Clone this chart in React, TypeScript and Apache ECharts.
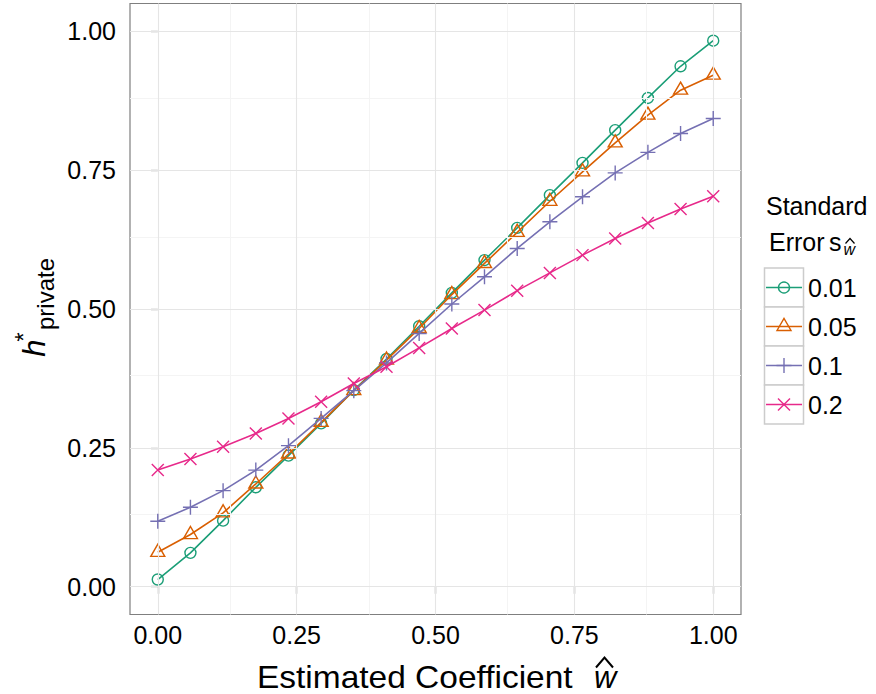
import React, { useEffect, useRef } from 'react';
import * as echarts from 'echarts';

// Estimated coefficient (x) values
const X_VALUES = [0, 0.0588, 0.1176, 0.1765, 0.2353, 0.2941, 0.3529, 0.4118, 0.4706, 0.5294, 0.5882, 0.6471, 0.7059, 0.7647, 0.8235, 0.8824, 0.9412, 1];

// h*_private for each standard error
const SE_LABELS = ['0.01', '0.05', '0.1', '0.2'];
const H_SE001 = [0.013, 0.061, 0.119, 0.179, 0.236, 0.294, 0.354, 0.410, 0.469, 0.529, 0.588, 0.646, 0.705, 0.763, 0.822, 0.880, 0.937, 0.983];
const H_SE005 = [0.062, 0.094, 0.133, 0.185, 0.239, 0.296, 0.353, 0.408, 0.465, 0.526, 0.582, 0.638, 0.694, 0.747, 0.799, 0.849, 0.894, 0.921];
const H_SE01 = [0.118, 0.143, 0.173, 0.210, 0.254, 0.303, 0.353, 0.403, 0.456, 0.509, 0.558, 0.609, 0.657, 0.702, 0.745, 0.782, 0.816, 0.843];
const H_SE02 = [0.210, 0.230, 0.252, 0.276, 0.303, 0.333, 0.366, 0.396, 0.430, 0.465, 0.498, 0.533, 0.565, 0.597, 0.627, 0.655, 0.680, 0.703];

const TICKS = [0, 0.25, 0.5, 0.75, 1];
const MINOR_TICKS = [0.125, 0.375, 0.625, 0.875];

const COLORS = ['#1b9e77', '#d95f02', '#7570b3', '#e7298a'];
const FONT = '"Liberation Sans", Arial, Helvetica, sans-serif';

const SYMBOLS = [
  { symbol: 'path://M10,5A5,5,0,1,1,0,5A5,5,0,1,1,10,5Z', size: [11, 11], offset: [0, 0] },
  { symbol: 'path://M5,0L10,8.66L0,8.66Z', size: [14, 12.1], offset: [0, -2] },
  { symbol: 'path://M0,5L10,5M5,0L5,10', size: [15, 15], offset: [0, 0] },
  { symbol: 'path://M0,0L10,10M10,0L0,10', size: [12, 12], offset: [0, 0] },
];

function legendSymbol(i: number, cx: number, cy: number, color: string): any {
  const style = { fill: 'none', stroke: color, lineWidth: 1.4 };
  if (i === 0) return { type: 'circle', shape: { cx, cy, r: 5.5 }, style };
  if (i === 1)
    return {
      type: 'polygon',
      shape: { points: [[cx - 7, cy + 4], [cx + 7, cy + 4], [cx, cy - 8.1]] },
      style,
    };
  if (i === 2)
    return {
      type: 'group',
      children: [
        { type: 'line', shape: { x1: cx - 7.5, y1: cy, x2: cx + 7.5, y2: cy }, style },
        { type: 'line', shape: { x1: cx, y1: cy - 7.5, x2: cx, y2: cy + 7.5 }, style },
      ],
    };
  return {
    type: 'group',
    children: [
      { type: 'line', shape: { x1: cx - 6, y1: cy - 6, x2: cx + 6, y2: cy + 6 }, style },
      { type: 'line', shape: { x1: cx + 6, y1: cy - 6, x2: cx - 6, y2: cy + 6 }, style },
    ],
  };
}

function txt(text: string, x: number, y: number, size: number, opts: any = {}): any {
  const align = opts.align || 'left';
  const font = `${opts.italic ? 'italic ' : ''}${size}px ${FONT}`;
  return {
    type: 'text',
    x,
    y,
    rotation: opts.rotation || 0,
    scaleX: opts.scaleX || 1,
    silent: true,
    style: {
      text,
      font,
      fill: '#000',
      align,
      textAlign: align,
      verticalAlign: 'middle',
      textVerticalAlign: 'middle',
    },
  };
}

export default function App() {
  const ref = useRef<HTMLDivElement>(null);

  useEffect(() => {
    if (!ref.current) return;
    const chart = echarts.init(ref.current, undefined, { renderer: 'svg' });
    const allSeries = [H_SE001, H_SE005, H_SE01, H_SE02];

    const gridLineData: any[] = [];
    MINOR_TICKS.forEach((v) => {
      gridLineData.push({ xAxis: v, lineStyle: { color: '#f4f4f4', width: 1, type: 'solid' } });
      gridLineData.push({ yAxis: v, lineStyle: { color: '#f4f4f4', width: 1, type: 'solid' } });
    });
    TICKS.forEach((v) => {
      gridLineData.push({ xAxis: v, lineStyle: { color: '#e5e5e5', width: 1.1, type: 'solid' } });
      gridLineData.push({ yAxis: v, lineStyle: { color: '#e5e5e5', width: 1.1, type: 'solid' } });
    });

    const series: any[] = [
      {
        type: 'line',
        name: 'grid',
        data: [],
        silent: true,
        z: 1,
        markLine: {
          silent: true,
          symbol: ['none', 'none'],
          label: { show: false },
          emphasis: { disabled: true },
          lineStyle: { type: 'solid' },
          data: gridLineData,
        },
      },
    ];

    allSeries.forEach((ys, i) => {
      series.push({
        type: 'line',
        name: SE_LABELS[i],
        z: 3 + i,
        data: X_VALUES.map((x, k) => [x, ys[k]]),
        symbol: SYMBOLS[i].symbol,
        symbolSize: SYMBOLS[i].size,
        symbolOffset: SYMBOLS[i].offset,
        showSymbol: true,
        lineStyle: { color: COLORS[i], width: 1.6 },
        itemStyle: { color: 'rgba(0,0,0,0)', borderColor: COLORS[i], borderWidth: 1.4 },
        emphasis: { disabled: true },
        silent: true,
      });
    });

    const axisCommon = {
      type: 'value',
      min: -0.05,
      max: 1.05,
      axisLine: { show: false },
      splitLine: { show: false },
      axisTick: {
        show: true,
        length: 7,
        customValues: TICKS,
        lineStyle: { color: '#333', width: 1.2 },
      },
    };

    const graphic: any[] = [];
    // Y axis title: h*_private
    graphic.push(txt('h', 34, 348, 31, { italic: true, rotation: Math.PI / 2, align: 'center' }));
    graphic.push(txt('*', 23.5, 337, 24, { rotation: Math.PI / 2, align: 'center' }));
    graphic.push(txt('private', 45, 330, 24, { rotation: Math.PI / 2, align: 'left' }));
    // X axis title
    graphic.push(txt('Estimated Coefficient', 257, 677, 31, { scaleX: 1.08 }));
    graphic.push(txt('w', 594, 677, 31, { italic: true }));
    graphic.push({
      type: 'polyline',
      silent: true,
      shape: { points: [[596, 667.5], [604.5, 657.5], [613, 667.5]] },
      style: { stroke: '#000', lineWidth: 2, fill: 'none' },
    });
    // Legend title
    graphic.push(txt('Standard', 766, 206, 25));
    graphic.push(txt('Error', 769, 242, 25));
    graphic.push(txt('s', 829, 242, 25));
    graphic.push(txt('w', 843.5, 249.5, 16, { italic: true }));
    graphic.push({
      type: 'polyline',
      silent: true,
      shape: { points: [[845.5, 243.5], [850, 238.5], [854.5, 243.5]] },
      style: { stroke: '#000', lineWidth: 1.2, fill: 'none' },
    });
    // Legend keys
    SE_LABELS.forEach((label, i) => {
      const top = 268 + 39 * i;
      const cy = top + 19.5;
      graphic.push({
        type: 'rect',
        silent: true,
        shape: { x: 764.5, y: top, width: 39, height: 39 },
        style: { fill: '#fff', stroke: '#cccccc', lineWidth: 1.5 },
      });
      graphic.push({
        type: 'line',
        silent: true,
        shape: { x1: 766, y1: cy, x2: 802, y2: cy },
        style: { stroke: COLORS[i], lineWidth: 1.6 },
      });
      graphic.push({ ...legendSymbol(i, 784, cy, COLORS[i]), silent: true });
      graphic.push(txt(label, 808, cy, 25));
    });

    chart.setOption({
      animation: false,
      backgroundColor: '#fff',
      grid: {
        left: 130,
        top: 3.5,
        width: 611,
        height: 611,
        show: true,
        backgroundColor: '#fff',
        borderColor: '#7f7f7f',
        borderWidth: 1.2,
      },
      xAxis: {
        ...axisCommon,
        position: 'bottom',
        axisLabel: {
          show: true,
          customValues: TICKS,
          margin: 8,
          fontSize: 25,
          fontFamily: FONT,
          color: '#000',
          formatter: (v: number) => v.toFixed(2),
        },
      },
      yAxis: {
        ...axisCommon,
        position: 'left',
        axisLabel: {
          show: true,
          customValues: TICKS,
          margin: 14,
          fontSize: 25,
          fontFamily: FONT,
          color: '#000',
          formatter: (v: number) => v.toFixed(2),
        },
      },
      series,
      graphic,
    });

    return () => chart.dispose();
  }, []);

  return (
    <div
      ref={ref}
      style={{ position: 'fixed', left: 0, top: 0, width: 876, height: 694, background: '#fff' }}
    />
  );
}
